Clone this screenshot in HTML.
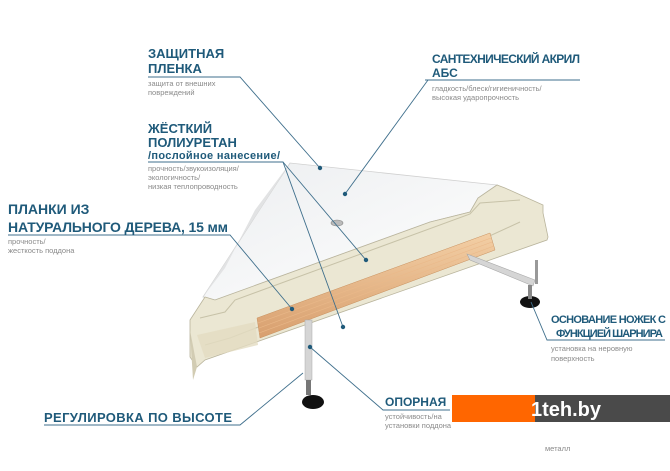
<!DOCTYPE html>
<html><head><meta charset="utf-8"><style>
body{margin:0;background:#fff}
svg{display:block}
.t{font-family:"Liberation Sans",sans-serif;font-weight:bold;fill:#1f5a7a}
.s{font-family:"Liberation Sans",sans-serif;font-size:7.5px;fill:#8a8a8a}
.l{stroke:#3f6f8c;stroke-width:0.9;fill:none}
.d{fill:#1f5a7a}
</style></head><body>
<svg width="670" height="471" viewBox="0 0 670 471" xmlns="http://www.w3.org/2000/svg">
<defs>
<linearGradient id="w" x1="0" y1="0" x2="1" y2="1"><stop offset="0" stop-color="#eceef0"/><stop offset="1" stop-color="#ffffff"/></linearGradient>
<linearGradient id="wood" x1="0" y1="0" x2="0" y2="1"><stop offset="0" stop-color="#f3cfa5"/><stop offset="1" stop-color="#d89f6e"/></linearGradient>
</defs>
<polygon points="203,297 290,163 497,185 478,198 470,212 430,222 215,300" fill="url(#w)" stroke="#d0d0d0" stroke-width="0.8"/>
<polygon points="203,297 290,163 255,210 225,268" fill="#e2e3e4"/>
<polygon points="190,320 205,297 215,300 430,222 470,212 478,198 497,185 505,188 543,205 543,213 548,237 547,240 205,360 197,367 190,357" fill="#ebe7d3" stroke="#b9b49c" stroke-width="0.8"/>
<polyline points="200,318 225,312 235,300 470,214 480,203 520,200" fill="none" stroke="#c7c2a8" stroke-width="1"/>
<polyline points="205,345 230,338 470,245 520,222" fill="none" stroke="#c7c2a8" stroke-width="1"/>
<polygon points="190,330 197,367 193,380" fill="#d2ccb3"/>
<polygon points="197,335 255,322 258,345 205,358" fill="#e3dcc2" opacity="0.8"/>
<polygon points="257,318 490,233 495,250 260,338" fill="url(#wood)" stroke="#c8915f" stroke-width="0.5"/>
<line x1="258" y1="323" x2="491" y2="238" stroke="#eab98a" stroke-width="0.6"/>
<line x1="259" y1="328" x2="492" y2="242" stroke="#eab98a" stroke-width="0.6"/>
<line x1="259" y1="333" x2="494" y2="246" stroke="#eab98a" stroke-width="0.6"/>
<ellipse cx="337" cy="223" rx="6" ry="3" fill="#bbb" stroke="#888" stroke-width="0.6"/>
<polygon points="467,254 470,260 533,286 535,280" fill="#d5d5d5" stroke="#a8a8a8" stroke-width="0.6"/>
<rect x="535" y="260" width="3" height="24" fill="#999"/>
<ellipse cx="530" cy="302" rx="10" ry="6" fill="#111"/>
<rect x="528" y="285" width="4" height="14" fill="#888"/>
<rect x="305" y="320" width="7" height="60" fill="#d5d5d5" stroke="#aaa" stroke-width="0.5"/>
<rect x="306" y="380" width="5" height="15" fill="#777"/>
<ellipse cx="313" cy="402" rx="11" ry="7" fill="#111"/>
<polyline class="l" points="148,77 240,77 320,168"/>
<polyline class="l" points="425,80 580,80"/><line class="l" x1="428" y1="80" x2="345" y2="194"/>
<polyline class="l" points="148,162 283,162 343,327"/><line class="l" x1="283" y1="162" x2="366" y2="260"/>
<polyline class="l" points="8,235 230,235 292,309"/>
<polyline class="l" points="310,347 383,410 450,410"/>
<polyline class="l" points="44,425 240,425 303,373"/>
<polyline class="l" points="531,302 547,340 665,340"/>
<g class="d"><circle cx="320" cy="168" r="2.2"/><circle cx="345" cy="194" r="2.2"/><circle cx="366" cy="260" r="2.2"/><circle cx="292" cy="309" r="2.2"/><circle cx="343" cy="327" r="2.2"/><circle cx="310" cy="347" r="2.2"/></g>
<text class="t" x="148" y="58" font-size="13">ЗАЩИТНАЯ</text>
<text class="t" x="148" y="73" font-size="13">ПЛЕНКА</text>
<text class="s" x="148" y="86">защита от внешних</text>
<text class="s" x="148" y="95">повреждений</text>
<text class="t" x="148" y="133" font-size="13">ЖЁСТКИЙ</text>
<text class="t" x="148" y="147" font-size="13">ПОЛИУРЕТАН</text>
<text class="t" x="148" y="159" font-size="11" textLength="132">/послойное нанесение/</text>
<text class="s" x="148" y="171">прочность/звукоизоляция/</text>
<text class="s" x="148" y="180">экологичность/</text>
<text class="s" x="148" y="189">низкая теплопроводность</text>
<text class="t" x="8" y="214" font-size="14">ПЛАНКИ ИЗ</text>
<text class="t" x="8" y="232" font-size="14" textLength="220">НАТУРАЛЬНОГО ДЕРЕВА, 15 мм</text>
<text class="s" x="8" y="244">прочность/</text>
<text class="s" x="8" y="253">жесткость поддона</text>
<text class="t" x="432" y="63" font-size="12" textLength="148">САНТЕХНИЧЕСКИЙ АКРИЛ</text>
<text class="t" x="432" y="77" font-size="12">АБС</text>
<text class="s" x="432" y="91">гладкость/блеск/гигиеничность/</text>
<text class="s" x="432" y="100">высокая ударопрочность</text>
<text class="t" x="551" y="323" font-size="11" textLength="115">ОСНОВАНИЕ НОЖЕК С</text>
<text class="t" x="556" y="337" font-size="11" textLength="107">ФУНКЦИЕЙ ШАРНИРА</text>
<text class="s" x="551" y="351">установка на неровную</text>
<text class="s" x="551" y="361">поверхность</text>
<text class="t" x="385" y="406" font-size="12">ОПОРНАЯ</text>
<text class="s" x="385" y="419">устойчивость/на</text>
<text class="s" x="385" y="428">установки поддона</text>
<text class="t" x="44" y="422" font-size="13" textLength="188">РЕГУЛИРОВКА ПО ВЫСОТЕ</text>
<rect x="452" y="395" width="83" height="27" fill="#ff6600"/>
<rect x="535" y="395" width="135" height="27" fill="#4a4a4a"/>
<text x="531" y="416" font-family="Liberation Sans,sans-serif" font-size="20" font-weight="bold" fill="#fff">1teh.by</text>
<text class="s" x="545" y="451">металл</text>
</svg>
</body></html>
